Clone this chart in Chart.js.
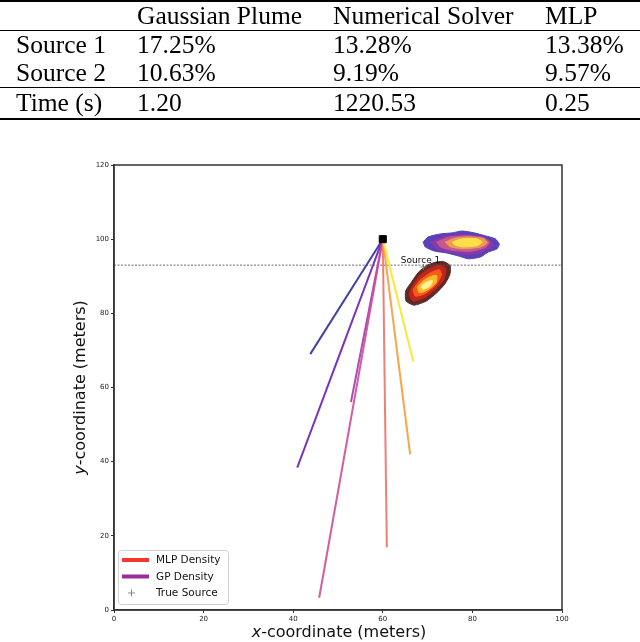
<!DOCTYPE html>
<html>
<head>
<meta charset="utf-8">
<script src="https://cdn.jsdelivr.net/npm/chart.js@4.4.1/dist/chart.umd.min.js"></script>
<style>
html,body{margin:0;padding:0;background:#fff;width:640px;height:642px;overflow:hidden;}
#wrap{position:relative;width:640px;height:642px;}
#plot{position:absolute;left:0;top:0;}
#tbl{position:absolute;left:0;top:0;width:640px;border-collapse:separate;border-spacing:0;table-layout:fixed;
  font-family:"Liberation Serif","Times New Roman",serif;font-size:25.5px;color:#000;}
#tbl td{padding:0;white-space:nowrap;vertical-align:middle;line-height:26px;}
</style>
</head>
<body>
<div id="wrap">
<canvas id="plot" width="640" height="642"></canvas>
<table id="tbl"></table>
</div>
<script>
// ---------------- DATA ----------------
const tableColumns = ["", "Gaussian Plume", "Numerical Solver", "MLP"];
const tableRows = ["Source 1", "Source 2", "Time (s)"];
const gaussianPlume = ["17.25%", "10.63%", "1.20"];
const numericalSolver = ["13.28%", "9.19%", "1220.53"];
const mlpValues = ["13.38%", "9.57%", "0.25"];

const xTicks = [0, 20, 40, 60, 80, 100];
const yTicks = [0, 20, 40, 60, 80, 100, 120];

const sensorOrigin = [60, 100];
const rayEndX = [43.8, 40.9, 52.9, 45.8, 60.9, 66.1, 66.8];
const rayEndY = [69.0, 38.4, 56.1, 3.3, 16.9, 42.0, 67.0];

const windLineY = 93;
const trueSource = [69.1, 92.5];
const sourceLabel = "Source 1";

const legendLabels = ["MLP Density", "GP Density", "True Source"];
const xTitle = ["x", "-coordinate (meters)"];
const yTitle = ["y", "-coordinate (meters)"];

// GP density contour levels (outer -> inner), [x, y]
const gpLevel1 = [[69.0,99.2],[70.1,100.6],[72.8,101.4],[75.5,101.7],[77.7,102.2],[80.4,101.7],[82.9,100.9],[85.1,100.1],[86.0,98.7],[85.5,97.4],[83.5,96.5],[81.8,95.2],[79.1,94.7],[76.8,95.5],[74.2,96.3],[71.5,96.8],[69.5,97.9]];
const gpLevel2 = [[70.6,99.2],[73.5,100.7],[77.7,101.2],[81.3,100.8],[84.2,99.6],[84.6,98.2],[82.4,96.7],[79.1,95.8],[75.5,96.4],[72.2,97.3]];
const gpLevel3 = [[72.0,99.2],[74.6,100.5],[78.6,100.9],[82.2,100.5],[83.8,99.2],[82.8,97.7],[79.5,96.7],[75.5,97.0],[72.9,97.9]];
const gpLevel4 = [[73.9,99.2],[76.2,100.3],[79.5,100.6],[82.6,100.1],[83.3,99.0],[81.8,97.9],[78.2,97.4],[75.1,97.9]];
const gpLevel5 = [[75.5,99.2],[77.7,100.1],[80.9,100.1],[82.2,99.2],[80.9,98.2],[77.7,97.9],[76.0,98.5]];

// MLP density contour levels (outer -> inner)
const mlpLevel1 = [[69.7,92.9],[71.5,93.7],[73.5,94.0],[75.0,92.9],[75.0,90.6],[73.9,88.0],[72.0,85.5],[69.7,83.3],[67.0,82.2],[65.2,83.3],[65.1,86.0],[66.5,88.6],[67.9,91.0]];
const mlpLevel2 = [[70.1,91.9],[72.6,93.0],[74.1,91.9],[73.6,89.0],[71.7,86.4],[69.3,84.2],[66.8,83.3],[65.9,85.2],[66.8,87.7],[68.3,90.3]];
const mlpLevel3 = [[70.4,90.8],[72.6,91.8],[73.1,90.3],[71.8,87.6],[69.4,85.3],[67.3,84.6],[66.8,86.4],[68.3,88.9]];
const mlpLevel4 = [[70.4,89.8],[72.0,90.3],[71.9,88.3],[69.9,86.2],[68.1,85.6],[67.8,87.2],[69.2,88.9]];
const mlpLevel5 = [[70.1,88.6],[71.1,88.8],[70.5,87.3],[69.0,86.5],[68.6,87.4]];

// ---------------- STYLES ----------------
const rayColors = ["rgba(45,45,155,0.9)","rgba(105,30,180,0.9)","rgba(160,45,170,0.85)","rgba(205,75,150,0.9)","rgba(238,120,110,0.95)","rgba(250,160,65,0.95)","rgba(248,232,45,0.95)"];
const gpColors = ["#5b40b8","#8a38a8","#c45a8c","#ef9a55","#fbe04a"];
const mlpColors = ["#5e2a24","#c4221c","#f25c16","#ffb72c","#fff39a"];
const legendColors = ["#f5382a", "#9a2d9c", "#888888"];

// ---------------- TABLE ----------------
(function buildTable(){
  const tbl = document.getElementById('tbl');
  const colW = [137, 196, 212, 95];
  const cg = document.createElement('colgroup');
  colW.forEach(w => { const c = document.createElement('col'); c.style.width = w + 'px'; cg.appendChild(c); });
  tbl.appendChild(cg);
  const rowsData = [tableColumns].concat(tableRows.map((r,i)=>[r, gaussianPlume[i], numericalSolver[i], mlpValues[i]]));
  const heights = [28, 28, 28, 30];
  rowsData.forEach((row, ri) => {
    const tr = document.createElement('tr');
    row.forEach((txt, ci) => {
      const td = document.createElement('td');
      td.textContent = txt;
      td.style.height = heights[ri] + 'px';
      if (ci === 0) td.style.paddingLeft = '16px';
      if (ri === 0) { td.style.borderTop = '2px solid #000'; td.style.borderBottom = '1px solid #000'; }
      if (ri === 2) td.style.borderBottom = '1px solid #000';
      if (ri === 3) td.style.borderBottom = '2px solid #000';
      tr.appendChild(td);
    });
    tbl.appendChild(tr);
  });
})();

// ---------------- CHART ----------------
const toXY = arr => arr.concat([arr[0]]).map(p => ({x: p[0], y: p[1]}));
const datasets = [];

[gpLevel1, gpLevel2, gpLevel3, gpLevel4, gpLevel5].forEach((lv, i) => {
  datasets.push({type:'line', label:'gp'+i, data: toXY(lv), fill:'shape', backgroundColor: gpColors[i],
    borderColor: gpColors[i], borderWidth: 1, pointRadius: 0, tension: 0.2, order: 40 - i});
});
[mlpLevel1, mlpLevel2, mlpLevel3, mlpLevel4, mlpLevel5].forEach((lv, i) => {
  datasets.push({type:'line', label:'mlp'+i, data: toXY(lv), fill:'shape', backgroundColor: mlpColors[i],
    borderColor: mlpColors[i], borderWidth: 1, pointRadius: 0, tension: 0.2, order: 40 - i});
});

datasets.push({type:'line', label:'wind', data:[{x:xTicks[0], y:windLineY},{x:xTicks[xTicks.length-1], y:windLineY}],
  borderColor:'rgba(90,90,90,0.9)', borderWidth:1, borderDash:[2,1.5], pointRadius:0, fill:false, order: 30});

rayEndX.forEach((ex, i) => {
  datasets.push({type:'line', label:'ray'+i, data:[{x:sensorOrigin[0], y:sensorOrigin[1]},{x:ex, y:rayEndY[i]}],
    borderColor: rayColors[i], borderWidth: 2, pointRadius: 0, fill:false, order: 20 - i});
});

datasets.push({type:'scatter', label:'sensor', data:[{x:sensorOrigin[0], y:sensorOrigin[1]}],
  pointStyle:'rect', radius:5, pointRadius:5, backgroundColor:'#000', borderColor:'#000', borderWidth:1, order: 1});
datasets.push({type:'scatter', label:'true', data:[{x:trueSource[0], y:trueSource[1]}],
  pointStyle:'cross', pointRadius:3, borderColor:'#777', borderWidth:1, order: 0});

const tickFont = {family:'DejaVu Sans', size:7};

const decor = {
  id:'decor',
  afterDraw(chart){
    const {ctx, chartArea:a, scales:{x, y}} = chart;
    ctx.save();
    ctx.strokeStyle = '#333'; ctx.lineWidth = 1.5;
    ctx.strokeRect(a.left, a.top, a.right - a.left, a.bottom - a.top);
    ctx.fillStyle = '#111';
    ctx.font = '9px "DejaVu Sans"';
    ctx.textAlign = 'center'; ctx.textBaseline = 'alphabetic';
    ctx.fillText(sourceLabel, x.getPixelForValue(trueSource[0]) - 3, y.getPixelForValue(trueSource[1]) - 4);
    const drawMixed = (parts, cx, cy) => {
      ctx.font = 'italic 16px "DejaVu Sans"';
      const w0 = ctx.measureText(parts[0]).width;
      ctx.font = '16px "DejaVu Sans"';
      const w1 = ctx.measureText(parts[1]).width;
      const sx = cx - (w0 + w1) / 2;
      ctx.textAlign = 'left'; ctx.textBaseline = 'middle'; ctx.fillStyle = '#111';
      ctx.font = 'italic 16px "DejaVu Sans"'; ctx.fillText(parts[0], sx, cy);
      ctx.font = '16px "DejaVu Sans"'; ctx.fillText(parts[1], sx + w0, cy);
    };
    drawMixed(xTitle, (a.left + a.right) / 2 + 1, 633);
    ctx.save();
    ctx.translate(81, (a.top + a.bottom) / 2);
    ctx.rotate(-Math.PI / 2);
    drawMixed(yTitle, 0, 0);
    ctx.restore();
    const lx = 118.5, ly = 550.5, lw = 110, lh = 54;
    ctx.beginPath();
    ctx.roundRect(lx, ly, lw, lh, 3);
    ctx.fillStyle = 'rgba(255,255,255,0.85)'; ctx.fill();
    ctx.strokeStyle = '#d0d0d0'; ctx.lineWidth = 1; ctx.stroke();
    const rowsY = [560, 576.5, 593];
    ctx.font = '10.5px "DejaVu Sans"'; ctx.textAlign = 'left'; ctx.textBaseline = 'middle';
    legendLabels.forEach((lab, i) => {
      if (i < 2) {
        ctx.strokeStyle = legendColors[i]; ctx.lineWidth = 4;
        ctx.beginPath(); ctx.moveTo(122, rowsY[i]); ctx.lineTo(149, rowsY[i]); ctx.stroke();
      } else {
        ctx.strokeStyle = legendColors[i]; ctx.lineWidth = 1;
        ctx.beginPath(); ctx.moveTo(131.5, rowsY[i]-3.5); ctx.lineTo(131.5, rowsY[i]+3.5);
        ctx.moveTo(128, rowsY[i]); ctx.lineTo(135, rowsY[i]); ctx.stroke();
      }
      ctx.fillStyle = '#111';
      ctx.fillText(lab, 156, rowsY[i] + 0.5);
    });
    ctx.restore();
  }
};

new Chart(document.getElementById('plot'), {
  type: 'line',
  data: { datasets },
  options: {
    responsive: false,
    animation: false,
    devicePixelRatio: 1,
    layout: { padding: { top: 165, right: 78, left: 0, bottom: 0 } },
    plugins: { legend: { display: false }, tooltip: { enabled: false } },
    scales: {
      x: {
        type: 'linear', min: xTicks[0], max: xTicks[xTicks.length-1],
        afterBuildTicks: s => { s.ticks = xTicks.map(v => ({value: v})); },
        afterFit: s => { s.height = 32; },
        ticks: { font: tickFont, color: '#222', padding: 2, maxRotation: 0, autoSkip: false },
        grid: { display: true, drawOnChartArea: false, drawTicks: true, tickLength: 3, color: '#333', lineWidth: 1 },
        border: { display: true, color: '#333', width: 1.5 }
      },
      y: {
        type: 'linear', min: yTicks[0], max: yTicks[yTicks.length-1],
        afterBuildTicks: s => { s.ticks = yTicks.map(v => ({value: v})); },
        afterFit: s => { s.width = 114; },
        ticks: { font: tickFont, color: '#222', padding: 2, autoSkip: false },
        grid: { display: true, drawOnChartArea: false, drawTicks: true, tickLength: 3, color: '#333', lineWidth: 1 },
        border: { display: true, color: '#333', width: 1.5 }
      }
    }
  },
  plugins: [decor]
});
</script>
</body>
</html>
